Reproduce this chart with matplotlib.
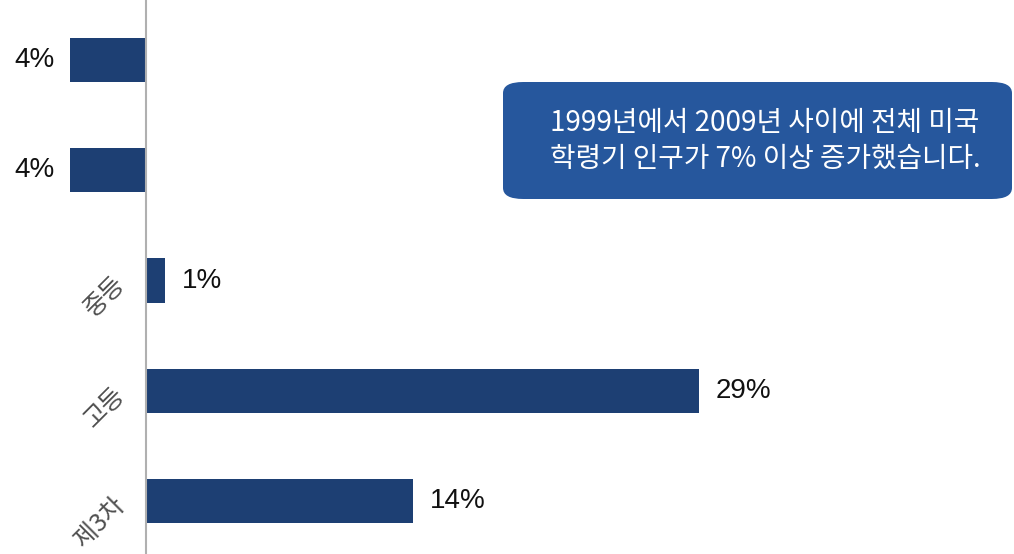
import matplotlib.pyplot as plt
from matplotlib.patches import FancyBboxPatch

plt.rcParams['font.family'] = ['Liberation Sans', 'Noto Sans CJK KR', 'DejaVu Sans']

# data (percent change 1999-2009)
categories = ['', '', '중등', '고등', '제3차']
values = [-4, -4, 1, 29, 14]
value_labels = ['4%', '4%', '1%', '29%', '14%']
note = '1999년에서 2009년 사이에 전체 미국\n학령기 인구가 7% 이상 증가했습니다.'

bar_color = '#1d3f73'
box_color = '#26579d'

fig = plt.figure(figsize=(10.14, 5.54), dpi=100)
ax = fig.add_axes([146 / 1014, 0, 1 - 146 / 1014, 1])

pos = list(range(len(values)))
bars = ax.barh(pos, values, height=0.4, color=bar_color, clip_on=False)

ax.set_xlim(0, 45.5)
ax.set_ylim(4.48, -0.544)

for b, v, lab in zip(bars, values, value_labels):
    if v < 0:
        ax.annotate(lab, (v, b.get_y() + b.get_height() / 2), xytext=(-11, 0),
                    textcoords='offset points', ha='right', va='center',
                    fontsize=20, color='#111111', annotation_clip=False,
                    family=['Liberation Sans'])
    else:
        ax.annotate(lab, (v, b.get_y() + b.get_height() / 2), xytext=(12, 0),
                    textcoords='offset points', ha='left', va='center',
                    fontsize=20, color='#111111', family=['Liberation Sans'])

ax.set_yticks(pos)
ax.set_yticklabels(categories, rotation=45, ha='right', va='center',
                   rotation_mode='anchor', fontsize=18, color='#505050',
                   family=['Noto Sans CJK KR', 'Liberation Sans'])
ax.tick_params(axis='y', length=0, pad=18)
ax.set_xticks([])

for s in ['top', 'right', 'bottom']:
    ax.spines[s].set_visible(False)
ax.spines['left'].set_color('#b0b0b0')
ax.spines['left'].set_linewidth(1.5)

# callout box
box = FancyBboxPatch((503 / 1014, 1 - 199 / 554), (1012 - 503) / 1014, (199 - 82) / 554,
                     boxstyle='round,pad=0,rounding_size=0.02', transform=fig.transFigure,
                     facecolor=box_color, edgecolor='none')
fig.patches.append(box)
fig.text(765 / 1014, 1 - 141 / 554, note, ha='center', va='center', color='white',
         fontsize=20, linespacing=1.3, family=['Noto Sans CJK KR', 'Liberation Sans'])

fig.savefig('out.png', dpi=100)
